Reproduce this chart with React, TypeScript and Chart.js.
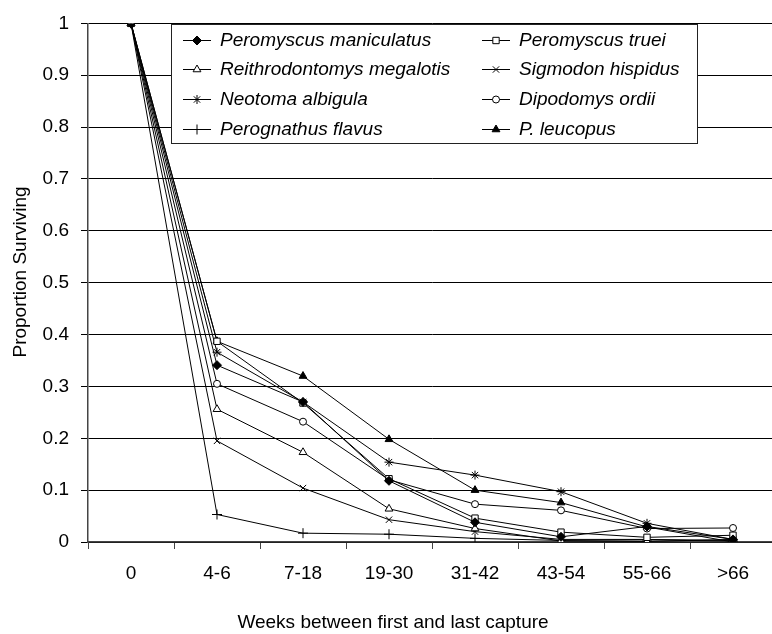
import React, { useEffect, useRef } from 'react';
import { Chart, registerables } from 'chart.js';
import { drawPoint } from 'chart.js/helpers';

Chart.register(...registerables);

const categories = ['0', '4-6', '7-18', '19-30', '31-42', '43-54', '55-66', '>66'];

const maniculatus = [1, 0.341, 0.27, 0.118, 0.038, 0.01, 0.03, 0.005];
const truei = [1, 0.387, 0.268, 0.122, 0.046, 0.019, 0.009, 0.013];
const megalotis = [1, 0.256, 0.173, 0.064, 0.026, 0.002, 0.001, 0.005];
const hispidus = [1, 0.195, 0.104, 0.043, 0.02, 0.005, 0.005, 0.003];
const albigula = [1, 0.366, 0.27, 0.154, 0.129, 0.097, 0.036, 0.005];
const ordii = [1, 0.305, 0.232, 0.12, 0.073, 0.061, 0.026, 0.027];
const flavus = [1, 0.053, 0.017, 0.015, 0.007, 0.003, 0.004, 0.002];
const leucopus = [1, 0.387, 0.32, 0.198, 0.1, 0.076, 0.029, 0.0];

const seriesNames = [
  'Peromyscus maniculatus',
  'Peromyscus truei',
  'Reithrodontomys megalotis',
  'Sigmodon hispidus',
  'Neotoma albigula',
  'Dipodomys ordii',
  'Perognathus flavus',
  'P. leucopus',
];
const seriesValues = [maniculatus, truei, megalotis, hispidus, albigula, ordii, flavus, leucopus];

const yMin = 0;
const yMax = 1;
const yStep = 0.1;

const xTitle = 'Weeks between first and last capture';
const yTitle = 'Proportion Surviving';

// marker styles (not data)
const markerStyles = [
  { pointStyle: 'rectRot', radius: 4.5, fill: '#000' },
  { pointStyle: 'rect', radius: 4.5, fill: '#fff' },
  { pointStyle: 'triangle', radius: 4.5, fill: '#fff' },
  { pointStyle: 'crossRot', radius: 4.5, fill: '#000' },
  { pointStyle: 'star', radius: 4.5, fill: '#000' },
  { pointStyle: 'circle', radius: 3.5, fill: '#fff' },
  { pointStyle: 'cross', radius: 5, fill: '#000' },
  { pointStyle: 'triangle', radius: 4.5, fill: '#000' },
];

const FONT = '"Liberation Sans", Arial, Helvetica, sans-serif';

const overlayPlugin = {
  id: 'overlayPlugin',
  afterDraw(chart: any) {
    const ctx: CanvasRenderingContext2D = chart.ctx;
    ctx.save();
    ctx.fillStyle = '#000';
    ctx.font = `19px ${FONT}`;
    ctx.textAlign = 'center';
    ctx.textBaseline = 'middle';
    ctx.fillText(xTitle, 393, 623);
    ctx.save();
    ctx.translate(21, 272);
    ctx.rotate(-Math.PI / 2);
    ctx.fillText(yTitle, 0, 0);
    ctx.restore();

    // legend box
    const bx = 172, by = 25, bw = 525, bh = 118;
    ctx.fillStyle = '#fff';
    ctx.fillRect(bx, by, bw, bh);
    ctx.strokeStyle = '#222';
    ctx.lineWidth = 1;
    ctx.strokeRect(bx - 0.5, by - 0.5, bw + 1, bh + 1);

    ctx.font = `italic 19px ${FONT}`;
    ctx.textAlign = 'left';
    seriesNames.forEach((name, i) => {
      const col = i % 2;
      const row = Math.floor(i / 2);
      const x0 = 183 + col * 299;
      const y = Math.round(39.5 + row * 29.9) + 0.5;
      ctx.strokeStyle = '#000';
      ctx.lineWidth = 1;
      ctx.beginPath();
      ctx.moveTo(x0, y);
      ctx.lineTo(x0 + 28, y);
      ctx.stroke();
      const ms = markerStyles[i];
      ctx.fillStyle = ms.fill;
      ctx.strokeStyle = '#000';
      ctx.lineWidth = 1;
      drawPoint(ctx, { pointStyle: ms.pointStyle, radius: ms.radius, borderWidth: 1, rotation: 0 } as any, x0 + 14, y);
      ctx.fillStyle = '#000';
      ctx.fillText(name, x0 + 37, y);
    });
    ctx.restore();
  },
};

export default function App() {
  const canvasRef = useRef<HTMLCanvasElement | null>(null);

  useEffect(() => {
    if (!canvasRef.current) return;
    const datasets = seriesNames.map((name, i) => ({
      label: name,
      data: seriesValues[i],
      borderColor: '#000',
      borderWidth: 1,
      backgroundColor: markerStyles[i].fill,
      pointStyle: markerStyles[i].pointStyle as any,
      pointRadius: markerStyles[i].radius,
      pointBorderWidth: 1,
      pointBorderColor: '#000',
      pointBackgroundColor: markerStyles[i].fill,
      tension: 0,
      fill: false,
    }));

    const chart = new Chart(canvasRef.current, {
      type: 'line',
      data: { labels: categories, datasets },
      options: {
        responsive: false,
        animation: false,
        devicePixelRatio: 1,
        layout: { padding: { top: 18, left: 0, right: 0, bottom: 0 } },
        plugins: {
          legend: { display: false },
          tooltip: { enabled: false },
          title: { display: false },
        },
        scales: {
          x: {
            type: 'category',
            offset: true,
            grid: {
              display: true,
              offset: true,
              drawOnChartArea: false,
              drawTicks: true,
              tickLength: 7,
              color: '#444',
              lineWidth: 1,
            },
            border: { display: true, color: '#444', width: 1.5 },
            ticks: {
              color: '#000',
              font: { family: FONT, size: 19 },
              padding: 13,
              maxRotation: 0,
              autoSkip: false,
            },
            afterFit: (scale: any) => {
              scale.height = 92;
            },
          },
          y: {
            min: yMin,
            max: yMax,
            grid: {
              display: true,
              drawOnChartArea: true,
              drawTicks: true,
              tickLength: 7,
              color: '#000',
              lineWidth: 1,
            },
            border: { display: true, color: '#444', width: 1.5 },
            ticks: {
              stepSize: yStep,
              color: '#000',
              font: { family: FONT, size: 19 },
              padding: 12,
              callback: (v: any) => String(Math.round(Number(v) * 10) / 10),
            },
            afterFit: (scale: any) => {
              scale.width = 88;
            },
          },
        },
      },
      plugins: [overlayPlugin],
    });
    return () => chart.destroy();
  }, []);

  return (
    <div style={{ position: 'absolute', left: 0, top: 0, width: 772, height: 634, overflow: 'hidden', background: '#fff' }}>
      <canvas ref={canvasRef} width={782} height={634} style={{ width: 782, height: 634, display: 'block' }} />
    </div>
  );
}
